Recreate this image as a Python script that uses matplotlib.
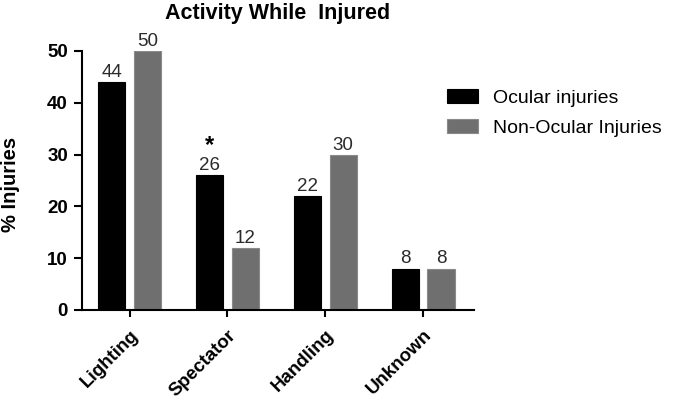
import matplotlib
matplotlib.use('Agg')
import matplotlib.pyplot as plt
import numpy as np

plt.rcParams['font.family'] = ['Liberation Sans', 'DejaVu Sans']

# Data
categories = ['Lighting', 'Spectator', 'Handling', 'Unknown']
ocular = [44, 26, 22, 8]
non_ocular = [50, 12, 30, 8]
series_names = ['Ocular injuries', 'Non-Ocular Injuries']
star_category = 'Spectator'

fig = plt.figure(figsize=(6.76, 4.01), dpi=100)
ax = fig.add_axes([0.121, 0.227, 0.580, 0.646])

x = np.arange(len(categories))
w = 0.277
off = 0.184
b1 = ax.bar(x - off, ocular, w, color='black', edgecolor='black', linewidth=0.8,
            label=series_names[0])
b2 = ax.bar(x + off, non_ocular, w, color='#6f6f6f', edgecolor='#8a8a8a', linewidth=0.8,
            label=series_names[1])

for bars in (b1, b2):
    for r in bars:
        ax.text(r.get_x() + r.get_width() / 2, r.get_height() + 0.2,
                f'{r.get_height():g}', ha='center', va='bottom',
                fontsize=13.5, color='#2a2a2a')

i = categories.index(star_category)
ax.text(i - off, ocular[i] + 3.6, '*', ha='center', va='bottom',
        fontsize=17, fontweight='bold')

ax.set_xlim(-0.49, 3.52)
ax.set_ylim(0, 50)
ax.set_yticks([0, 10, 20, 30, 40, 50])
ax.set_xticks(x)
ax.set_xticklabels(categories, rotation=45, ha='right', rotation_mode='anchor',
                   fontsize=13.5, fontweight='bold')
for lbl in ax.get_yticklabels():
    lbl.set_fontweight('bold')
    lbl.set_fontsize(13.5)
ax.tick_params(axis='y', length=6, width=1.5, direction='out', pad=4)
ax.tick_params(axis='x', length=5, width=1.5, direction='out', pad=7)
for s in ['top', 'right']:
    ax.spines[s].set_visible(False)
for s in ['left', 'bottom']:
    ax.spines[s].set_linewidth(1.5)

ax.set_ylabel('% Injuries', fontsize=14.5, fontweight='bold')
ax.yaxis.set_label_coords(-0.158, 0.486)
ax.set_title('Activity While  Injured', fontsize=15.5, fontweight='bold', pad=23)

fig.legend(handles=[b1, b2], loc='upper left', bbox_to_anchor=(0.661, 0.779),
           frameon=False, fontsize=14, handlelength=1.6, handleheight=0.75,
           handletextpad=0.78, labelspacing=0.64, borderpad=0, borderaxespad=0)

fig.savefig('out.png', dpi=100)
